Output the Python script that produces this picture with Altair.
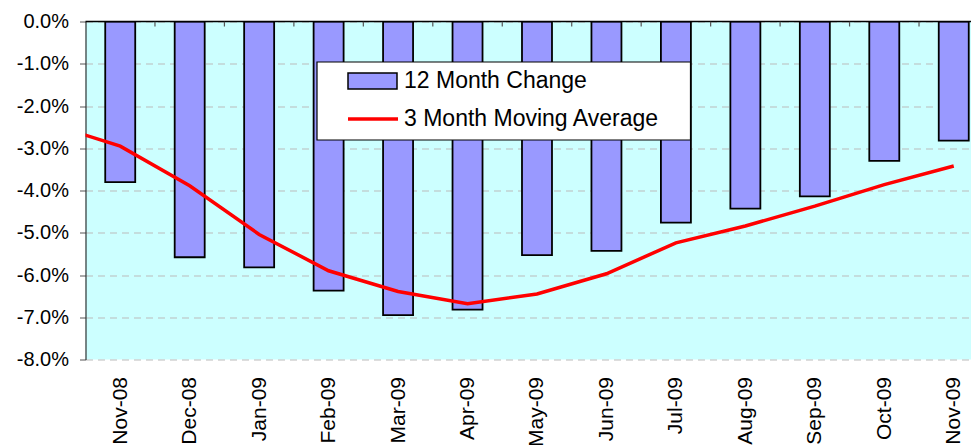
import altair as alt
import pandas as pd

months = ["Nov-08", "Dec-08", "Jan-09", "Feb-09", "Mar-09", "Apr-09", "May-09",
          "Jun-09", "Jul-09", "Aug-09", "Sep-09", "Oct-09", "Nov-09"]
change_12m = [-3.80, -5.58, -5.82, -6.37, -6.95, -6.82, -5.53,
              -5.43, -4.76, -4.43, -4.14, -3.30, -2.82]
# moving average, first value belongs to the month before Nov-08 (Oct-08)
ma_months = ["Oct-08"] + months
ma_3m = [-2.43, -2.95, -3.89, -5.04, -5.90, -6.39, -6.68, -6.45,
         -5.97, -5.24, -4.84, -4.37, -3.86, -3.42]
y_ticks = [0, -1, -2, -3, -4, -5, -6, -7, -8]
legend_labels = ["12 Month Change", "3 Month Moving Average"]

FONT = "Liberation Sans"
BAR_COLOR = "#9999FF"
LINE_COLOR = "#FF0000"

bars_df = pd.DataFrame({"idx": list(range(len(months))), "month": months, "value": change_12m})
ma_df = pd.DataFrame({"idx": list(range(-1, len(months))), "month": ma_months, "value": ma_3m})
bound_df = pd.DataFrame({"b": [i + 0.5 for i in range(len(months) - 1)]})

band_px = 69.46
plot_w = 885.5
plot_h = 338
x_max = -0.5 + plot_w / band_px

label_expr = "datum.value >= 0 && datum.value < 13 ? " + str(months) + "[round(datum.value)] : ''"

x_scale = alt.Scale(domain=[-0.5, x_max], nice=False, zero=False, padding=0)
y_scale = alt.Scale(domain=[-8, 0], nice=False, zero=False)

x_axis = alt.Axis(values=list(range(len(months))), labelExpr=label_expr, labelAngle=-90,
                  labelAlign="right", labelBaseline="middle", labelPadding=17,
                  ticks=False, domain=False, grid=False, title=None,
                  labelFont=FONT, labelFontSize=21, labelColor="#000000")
y_axis = alt.Axis(values=y_ticks,
                  labelExpr="(datum.value < 0 ? '-' : '') + format(abs(datum.value), '.1f') + '%'",
                  labelFont=FONT, labelFontSize=20, labelColor="#000000", labelPadding=11,
                  tickSize=6, tickColor="#555555", domainColor="#333333", domainWidth=1.2,
                  grid=True, gridColor="#BBBBBB", gridDash=[7, 5], gridWidth=1,
                  title=None)

bars = alt.Chart(bars_df).mark_bar(size=30, color=BAR_COLOR, stroke="#000000",
                                   strokeWidth=1.8, clip=True).encode(
    x=alt.X("idx:Q", scale=x_scale, axis=x_axis),
    y=alt.Y("value:Q", scale=y_scale, axis=y_axis),
    y2=alt.datum(0),
)

line = alt.Chart(ma_df).mark_line(color=LINE_COLOR, strokeWidth=3.5, clip=True).encode(
    x=alt.X("idx:Q", scale=x_scale),
    y=alt.Y("value:Q", scale=y_scale),
)

top_line = alt.Chart(bars_df.head(1)).mark_rule(color="#000000", strokeWidth=1.5).encode(
    y=alt.value(0), x=alt.value(0), x2=alt.value(plot_w)
)

bound_ticks = alt.Chart(bound_df).mark_rule(color="#555555", strokeWidth=1.2, clip=True).encode(
    x=alt.X("b:Q", scale=x_scale), y=alt.value(0), y2=alt.value(5)
)

# Legend box (manual)
leg_df = pd.DataFrame({"label": legend_labels})
leg_box = alt.Chart(leg_df.head(1)).mark_rect(fill="#FFFFFF", stroke="#000000", strokeWidth=1.2).encode(
    x=alt.value(231.5), x2=alt.value(605), y=alt.value(40.5), y2=alt.value(118.5)
)
leg_swatch = alt.Chart(leg_df.head(1)).mark_rect(fill=BAR_COLOR, stroke="#000000", strokeWidth=1.5).encode(
    x=alt.value(262.5), x2=alt.value(311.5), y=alt.value(51.5), y2=alt.value(67.5)
)
leg_line = alt.Chart(leg_df.tail(1)).mark_rule(color=LINE_COLOR, strokeWidth=3.5).encode(
    x=alt.value(262.5), x2=alt.value(312.5), y=alt.value(97.5)
)
leg_text1 = alt.Chart(leg_df.head(1)).mark_text(align="left", baseline="middle", font=FONT,
                                                fontSize=23, color="#000000").encode(
    x=alt.value(318.5), y=alt.value(59.5), text="label:N",
)
leg_text2 = alt.Chart(leg_df.tail(1)).mark_text(align="left", baseline="middle", font=FONT,
                                                fontSize=23, color="#000000").encode(
    x=alt.value(318.5), y=alt.value(97.5), text="label:N",
)

chart = alt.layer(
    bars, line, top_line, bound_ticks, leg_box, leg_swatch, leg_line, leg_text1, leg_text2
).properties(
    width=plot_w, height=plot_h,
    autosize=alt.AutoSizeParams(type="none"),
    padding={"left": 77.5, "top": 13.5, "right": 0, "bottom": 85},
    background="#FFFFFF",
).configure_view(fill="#CCFFFF", stroke=None)

chart.save("out.html", embed_options={"renderer": "svg", "actions": False})
